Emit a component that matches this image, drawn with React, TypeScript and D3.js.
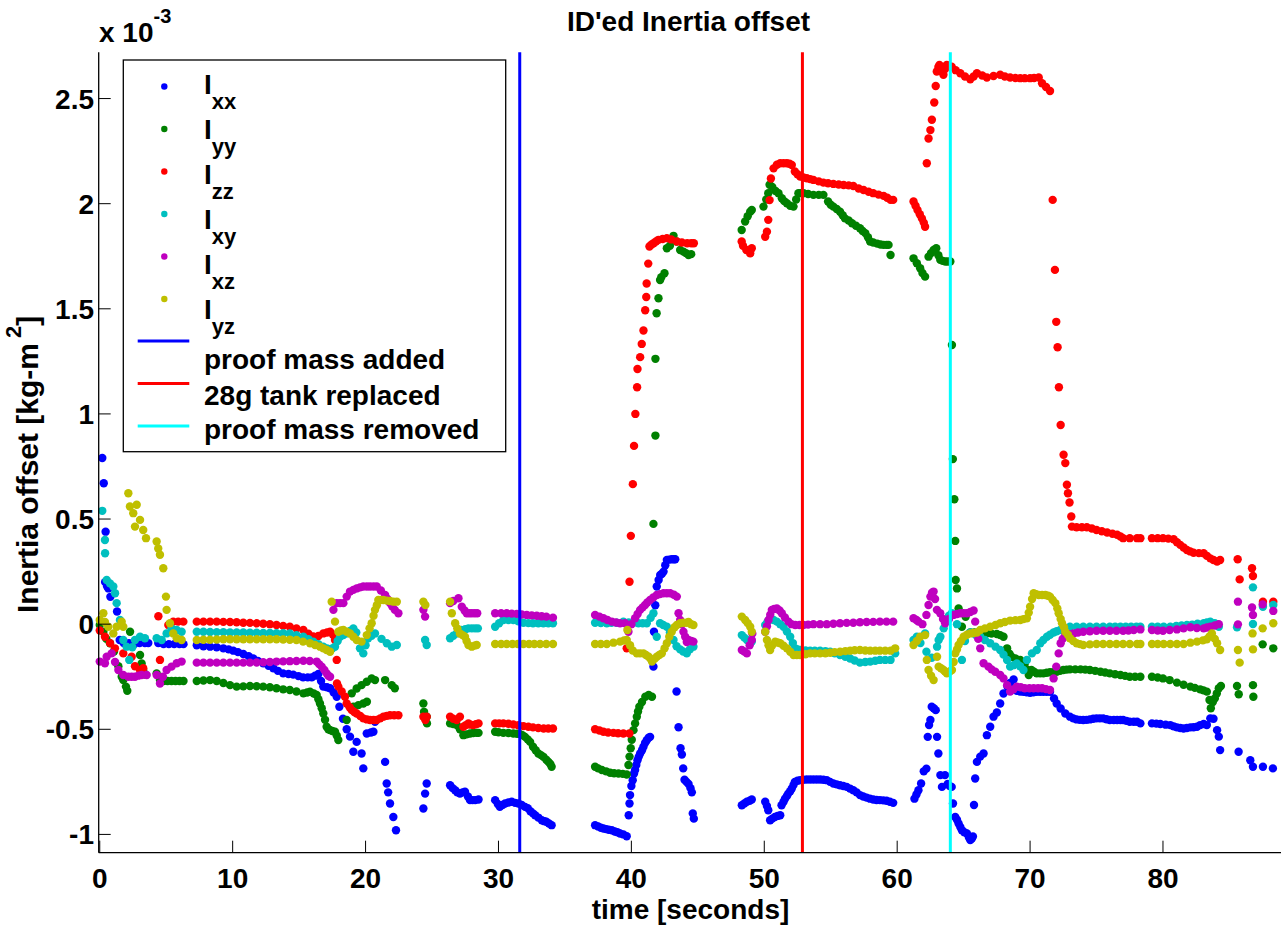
import React from "react";
import * as d3 from "d3";

// values are in units of 1e-3 kg-m^2, time in seconds
const ixx: [number, number][] = [
  [0.19,0.79],[0.3,0.67],[0.4,0.2],[0.44,0.44],[0.55,0.18],[0.65,0.17],[0.8,0.13],[1.3,0.06],
  [1.5,-0.075],[1.8,-0.09],[2.2,-0.09],[2.6,-0.095],[3.0,-0.09],[3.4,-0.09],[3.65,-0.09],
  [4.4,-0.09],[4.8,-0.095],[5.2,-0.095],[5.6,-0.095],[6.0,-0.095],[6.3,-0.095],
  [7.3,-0.1],[7.8,-0.105],[8.3,-0.107],[8.8,-0.11],[9.3,-0.115],[9.7,-0.12],[10.05,-0.126],[10.4,-0.133],
  [10.8,-0.142],[11.2,-0.152],[11.55,-0.163],[11.9,-0.175],[12.3,-0.186],[12.7,-0.198],[13.06,-0.21],
  [13.4,-0.222],[13.8,-0.234],[14.2,-0.237],[14.56,-0.24],[14.95,-0.247],[15.3,-0.253],[15.65,-0.253],
  [15.95,-0.253],[16.2,-0.245],[16.45,-0.237],[16.65,-0.27],[16.82,-0.297],[17.1,-0.3],[17.33,-0.305],
  [17.6,-0.325],[17.83,-0.345],[18.03,-0.393],[18.3,-0.45],[18.58,-0.5],[18.83,-0.535],[19.08,-0.607],
  [19.33,-0.56],[19.7,-0.615],[19.83,-0.686],[20.09,-0.52],[20.4,-0.515],[20.59,-0.512],[20.71,-0.464],
  [21.47,-0.655],[21.59,-0.758],[21.7,-0.8],[21.84,-0.853],[22.09,-0.917],[22.29,-0.98],
  [24.35,-0.877],[24.48,-0.806],[24.6,-0.758],
  [26.36,-0.766],[26.55,-0.78],[26.74,-0.79],[26.9,-0.8],[27.1,-0.806],[27.3,-0.8],[27.48,-0.797],
  [27.7,-0.82],[27.86,-0.837],[28.05,-0.837],[28.25,-0.837],[28.5,-0.834],
  [29.75,-0.837],[29.95,-0.855],[30.1,-0.869],[30.3,-0.86],[30.5,-0.853],[30.75,-0.848],[31.0,-0.845],
  [31.25,-0.85],[31.5,-0.853],[31.75,-0.86],[32.0,-0.869],[32.2,-0.875],[32.4,-0.89],[32.6,-0.9],
  [32.76,-0.909],[33.0,-0.92],[33.26,-0.933],[33.45,-0.937],[33.6,-0.94],[33.8,-0.948],[34.0,-0.956],
  [37.27,-0.956],[37.5,-0.962],[37.7,-0.968],[37.9,-0.972],[38.1,-0.975],[38.3,-0.978],[38.53,-0.98],
  [38.75,-0.986],[38.95,-0.99],[39.15,-0.996],[39.4,-1.0],[39.65,-1.009],
  [39.8,-0.909],[39.86,-0.853],[39.9,-0.813],[40.0,-0.77],[40.1,-0.742],[40.2,-0.71],[40.28,-0.694],
  [40.37,-0.67],[40.46,-0.647],[40.56,-0.63],[40.66,-0.615],[40.8,-0.6],[40.91,-0.583],[41.03,-0.565],
  [41.16,-0.552],[41.3,-0.54],[41.41,-0.536],
  [41.66,-0.202],[41.7,-0.036],[41.8,0.09],[41.91,0.179],[42.05,0.21],[42.17,0.234],[42.3,0.24],
  [42.42,0.25],[42.55,0.28],[42.67,0.305],[42.85,0.307],[43.04,0.309],[43.2,0.309],[43.3,0.309],
  [43.4,-0.32],[43.55,-0.49],[43.7,-0.59],[43.8,-0.62],[43.9,-0.686],[44.0,-0.74],[44.15,-0.75],
  [44.3,-0.76],[44.45,-0.78],[44.55,-0.8],[44.62,-0.9],[44.7,-0.925],
  [48.31,-0.861],[48.5,-0.853],[48.69,-0.845],[48.9,-0.84],[49.06,-0.834],
  [50.07,-0.845],[50.2,-0.865],[50.3,-0.885],[50.44,-0.933],[50.6,-0.925],[50.8,-0.917],[51.0,-0.912],
  [51.2,-0.909],[51.3,-0.861],[51.45,-0.845],[51.56,-0.83],[51.7,-0.818],[51.8,-0.806],[51.95,-0.795],
  [52.07,-0.782],[52.2,-0.765],[52.3,-0.75],[52.5,-0.745],[52.7,-0.742],[52.95,-0.74],[53.2,-0.739],
  [53.45,-0.739],[53.7,-0.739],[53.95,-0.739],[54.2,-0.739],[54.45,-0.74],[54.7,-0.742],[54.95,-0.75],
  [55.2,-0.758],[55.45,-0.762],[55.7,-0.766],[55.95,-0.77],[56.2,-0.774],[56.45,-0.782],[56.7,-0.79],
  [56.95,-0.8],[57.2,-0.813],[57.45,-0.82],[57.7,-0.825],[57.95,-0.83],[58.2,-0.834],[58.45,-0.836],
  [58.7,-0.837],[58.95,-0.838],[59.2,-0.84],[59.45,-0.845],[59.7,-0.85],
  [61.3,-0.83],[61.45,-0.81],[61.6,-0.79],[61.8,-0.758],[62.0,-0.7],[62.2,-0.687],[62.3,-0.536],
  [62.4,-0.48],[62.5,-0.456],[62.6,-0.393],[62.75,-0.4],[62.9,-0.409],[63.0,-0.536],[63.1,-0.615],
  [63.25,-0.718],[63.37,-0.774],[63.6,-0.718],[63.8,-0.76],[63.95,-0.77],[64.1,-0.774],[64.2,-0.853],
  [64.37,-0.917],[64.5,-0.93],[64.62,-0.948],[64.75,-0.965],[64.87,-0.98],[65.05,-0.99],[65.25,-0.996],
  [65.4,-1.015],[65.5,-1.027],[65.62,-1.02],[65.7,-1.01],[65.78,-0.86],[65.87,-0.734],[66.0,-0.655],
  [66.25,-0.63],[66.5,-0.615],[66.75,-0.528],[67.0,-0.488],[67.25,-0.44],[67.5,-0.42],[67.75,-0.377],
  [68.0,-0.33],[68.3,-0.297],[68.5,-0.28],[68.76,-0.263],[69.0,-0.317],[69.25,-0.32],[69.5,-0.322],
  [69.75,-0.324],[70.0,-0.326],[70.25,-0.324],[70.5,-0.322],[70.75,-0.322],[71.0,-0.322],[71.25,-0.322],
  [71.5,-0.322],[71.8,-0.353],[72.0,-0.377],[72.3,-0.401],[72.65,-0.425],[73.0,-0.44],[73.25,-0.448],
  [73.5,-0.453],[73.75,-0.455],[74.0,-0.456],[74.25,-0.455],[74.5,-0.453],[74.75,-0.45],[75.0,-0.448],
  [75.25,-0.448],[75.5,-0.448],[75.75,-0.452],[76.0,-0.456],[76.3,-0.456],[76.55,-0.456],[76.8,-0.456],
  [77.0,-0.456],[77.25,-0.46],[77.5,-0.464],[77.8,-0.464],[78.05,-0.464],[78.3,-0.472],
  [79.17,-0.472],[79.5,-0.473],[79.8,-0.475],[80.2,-0.478],[80.55,-0.48],[80.8,-0.486],[81.05,-0.491],
  [81.3,-0.494],[81.55,-0.496],[81.8,-0.494],[82.06,-0.491],[82.3,-0.49],[82.56,-0.488],[82.8,-0.48],
  [83.06,-0.475],[83.3,-0.48],[83.56,-0.448],[83.8,-0.45],[84.07,-0.504],[84.2,-0.535],[84.3,-0.599],
  [85.69,-0.607],[86.57,-0.647],[86.77,-0.678],[87.52,-0.678],[88.27,-0.686],
];

const iyy: [number, number][] = [
  [0.0,-0.004],[0.27,-0.036],[0.5,-0.07],[0.77,-0.091],[1.07,-0.13],[1.4,-0.2],[1.65,-0.25],[1.77,-0.266],
  [1.97,-0.297],[2.07,-0.317],[2.28,-0.036],[3.03,-0.147],[3.15,-0.187],[3.27,-0.22],[3.4,-0.24],
  [4.28,-0.234],[4.53,-0.265],[4.8,-0.27],[5.1,-0.27],[5.4,-0.27],[5.7,-0.27],[6.0,-0.27],[6.3,-0.27],
  [7.3,-0.27],[7.8,-0.268],[8.3,-0.266],[8.8,-0.27],[9.3,-0.28],[9.8,-0.29],[10.3,-0.297],[10.8,-0.296],
  [11.3,-0.294],[11.8,-0.295],[12.3,-0.297],[12.8,-0.3],[13.3,-0.305],[13.8,-0.31],[14.3,-0.313],
  [14.8,-0.32],[15.32,-0.329],[15.6,-0.325],[15.82,-0.321],[16.1,-0.33],[16.32,-0.337],[16.45,-0.357],
  [16.57,-0.377],[16.7,-0.4],[16.82,-0.425],[16.95,-0.455],[17.07,-0.488],[17.2,-0.5],[17.33,-0.504],
  [17.5,-0.508],[17.7,-0.512],[17.83,-0.53],[17.95,-0.551],[18.58,-0.456],[18.96,-0.329],[19.08,-0.393],
  [19.33,-0.306],[19.46,-0.385],[19.7,-0.29],[19.83,-0.377],[20.09,-0.274],[20.1,-0.369],[20.46,-0.258],
  [20.71,-0.266],[21.47,-0.266],[21.97,-0.29],[22.2,-0.305],
  [24.35,-0.377],[24.4,-0.417],[24.6,-0.44],[24.62,-0.472],
  [26.36,-0.472],[26.6,-0.475],[26.86,-0.48],[27.1,-0.5],[27.36,-0.528],[27.6,-0.524],[27.86,-0.52],
  [28.1,-0.518],[28.36,-0.517],[28.5,-0.517],
  [29.75,-0.512],[30.0,-0.514],[30.37,-0.517],[30.75,-0.518],[31.12,-0.52],[31.4,-0.521],[31.63,-0.523],
  [31.8,-0.528],[32.0,-0.536],[32.2,-0.548],[32.38,-0.56],[32.6,-0.583],[32.8,-0.6],[33.0,-0.615],
  [33.2,-0.623],[33.38,-0.631],[33.6,-0.645],[33.76,-0.655],[33.9,-0.665],[34.0,-0.678],
  [37.27,-0.678],[37.5,-0.686],[37.78,-0.694],[38.1,-0.7],[38.4,-0.707],[38.7,-0.709],[39.03,-0.71],
  [39.35,-0.712],[39.65,-0.715],[39.78,-0.67],[39.86,-0.63],[39.95,-0.59],[40.03,-0.55],[40.16,-0.504],
  [40.28,-0.472],[40.41,-0.44],[40.5,-0.415],[40.6,-0.393],[40.8,-0.37],[41.05,-0.345],[41.3,-0.337],
  [41.55,-0.345],[41.66,0.477],[41.81,0.897],[41.81,1.262],[41.9,1.479],[42.04,1.55],[42.16,1.637],
  [42.25,1.65],[42.49,1.669],[42.67,1.788],[42.9,1.8],[43.17,1.847],[43.4,1.82],[43.67,1.78],
  [43.92,1.772],[44.1,1.765],[44.3,1.756],[44.5,1.76],
  [48.3,1.875],[48.56,1.915],[48.75,1.94],[48.94,1.962],[49.06,1.97],
  [49.94,1.986],[50.15,2.02],[50.3,2.05],[50.4,2.09],[50.6,2.08],[50.85,2.06],[51.07,2.05],[51.32,2.026],
  [51.5,2.012],[51.7,2.002],[51.95,1.99],[52.2,1.986],[52.4,2.02],[52.57,2.05],[52.75,2.05],[52.96,2.05],
  [53.3,2.046],[53.7,2.042],[54.1,2.042],[54.45,2.042],[54.8,2.01],[55.0,1.995],[55.2,1.986],[55.45,1.975],
  [55.7,1.962],[55.9,1.945],[56.07,1.93],[56.35,1.92],[56.6,1.907],[56.9,1.895],[57.2,1.883],[57.4,1.87],
  [57.6,1.86],[57.8,1.84],[57.96,1.82],[58.2,1.815],[58.5,1.81],[58.75,1.806],[58.98,1.804],[59.2,1.804],
  [59.35,1.804],[59.5,1.756],
  [61.23,1.74],[61.48,1.717],[61.73,1.693],[61.9,1.67],[62.1,1.653],[62.36,1.748],[62.55,1.765],
  [62.74,1.78],[62.94,1.788],[63.1,1.755],[63.24,1.733],[63.42,1.728],[63.62,1.725],[63.8,1.725],
  [64.0,1.725],[64.12,1.328],[64.19,0.785],[64.3,0.594],[64.37,0.396],[64.4,0.21],[64.5,0.17],
  [64.62,0.075],[64.87,-0.012],[65.15,0.035],[65.5,-0.04],[65.8,-0.04],[66.1,-0.04],[66.5,-0.04],
  [66.8,-0.042],[67.1,-0.045],[67.5,-0.047],[67.75,-0.052],[68.0,-0.06],[68.27,-0.115],[68.45,-0.14],
  [68.6,-0.155],[68.9,-0.163],[69.26,-0.17],[69.6,-0.187],[69.75,-0.215],[69.9,-0.242],[70.1,-0.218],
  [70.3,-0.226],[70.5,-0.234],[70.75,-0.234],[71.0,-0.234],[71.25,-0.231],[71.5,-0.229],[71.75,-0.228],
  [72.0,-0.226],[72.25,-0.222],[72.5,-0.218],[72.75,-0.216],[73.0,-0.215],[73.4,-0.215],[73.8,-0.215],
  [74.15,-0.216],[74.5,-0.218],[74.9,-0.222],[75.3,-0.226],[75.65,-0.23],[76.0,-0.234],[76.4,-0.238],
  [76.8,-0.242],[77.15,-0.246],[77.5,-0.25],[77.9,-0.25],[78.3,-0.25],
  [79.17,-0.25],[79.6,-0.254],[80.0,-0.258],[80.5,-0.266],[81.05,-0.278],[81.55,-0.288],[82.06,-0.297],
  [82.4,-0.303],[82.8,-0.31],[83.05,-0.315],[83.3,-0.321],[83.5,-0.361],[83.6,-0.4],[83.75,-0.37],
  [83.9,-0.353],[84.05,-0.33],[84.2,-0.305],[84.36,-0.294],
  [85.57,-0.294],[85.7,-0.333],[86.77,-0.29],[86.8,-0.345],[87.5,-0.096],[88.3,-0.115],
];

const izz: [number, number][] = [
  [0.0,-0.03],[0.39,-0.06],[0.77,-0.09],[1.14,-0.115],[1.77,-0.139],[2.4,-0.155],[2.65,-0.2],[3.03,-0.218],
  [3.27,-0.21],[4.41,0.038],[4.53,-0.17],[5.16,-0.004],[5.53,0.012],[5.9,0.012],[6.29,0.012],
  [7.3,0.012],[7.8,0.012],[8.3,0.012],[8.8,0.012],[9.3,0.011],[9.8,0.01],[10.3,0.009],[10.8,0.007],
  [11.3,0.006],[11.8,0.004],[12.3,0.002],[12.8,0.0],[13.3,-0.004],[13.8,-0.008],[14.3,-0.012],[14.8,-0.02],
  [15.32,-0.028],[15.7,-0.045],[16.07,-0.059],[16.45,-0.056],[16.82,-0.044],[17.1,-0.04],[17.33,-0.036],
  [17.55,-0.05],[17.7,-0.075],[17.83,-0.17],[17.85,-0.282],[17.95,-0.297],[18.2,-0.32],[18.45,-0.345],
  [18.58,-0.377],[18.8,-0.395],[18.96,-0.409],[19.15,-0.418],[19.33,-0.425],[19.6,-0.437],[19.83,-0.448],
  [20.1,-0.453],[20.34,-0.456],[20.6,-0.456],[20.84,-0.456],[21.1,-0.448],[21.34,-0.44],[21.6,-0.436],
  [21.84,-0.433],[22.15,-0.433],[22.47,-0.433],
  [24.35,-0.44],[24.5,-0.456],[24.6,-0.44],
  [26.36,-0.44],[26.6,-0.45],[26.86,-0.456],[27.1,-0.44],[27.36,-0.488],[27.55,-0.48],[27.74,-0.472],
  [27.9,-0.478],[28.1,-0.48],[28.3,-0.476],[28.5,-0.472],
  [29.75,-0.472],[30.05,-0.472],[30.37,-0.472],[30.75,-0.474],[31.12,-0.477],[31.5,-0.481],[31.88,-0.485],
  [32.25,-0.488],[32.6,-0.491],[33.0,-0.494],[33.4,-0.496],[33.75,-0.496],[34.1,-0.496],
  [37.27,-0.5],[37.6,-0.506],[37.9,-0.512],[38.25,-0.515],[38.65,-0.517],[39.0,-0.519],[39.4,-0.52],
  [39.65,-0.115],[39.85,-0.52],[39.86,0.202],[39.96,0.42],[40.11,0.666],[40.2,0.848],[40.3,1.0],
  [40.43,1.127],[40.46,1.214],[40.66,1.27],[40.78,1.333],[40.91,1.397],[41.04,1.493],[41.12,1.556],
  [41.15,1.62],[41.27,1.715],[41.36,1.796],[41.5,1.805],[41.67,1.812],[41.85,1.82],[42.04,1.828],
  [42.35,1.832],[42.67,1.836],[43.0,1.83],[43.42,1.82],[43.8,1.815],[44.2,1.812],[44.5,1.812],[44.7,1.812],
  [48.3,1.82],[48.4,1.8],[48.65,1.78],[48.94,1.764],[49.06,1.788],
  [50.07,1.843],[50.2,1.867],[50.3,1.923],[50.4,2.017],[50.5,2.12],[50.7,2.168],[50.95,2.185],[51.2,2.192],
  [51.45,2.192],[51.7,2.192],[51.9,2.19],[52.07,2.184],[52.3,2.153],[52.5,2.14],[52.7,2.129],[52.95,2.125],
  [53.2,2.121],[53.45,2.117],[53.7,2.113],[54.1,2.106],[54.45,2.1],[54.8,2.097],[55.2,2.094],[55.6,2.091],
  [55.97,2.089],[56.35,2.087],[56.7,2.084],[57.1,2.072],[57.47,2.065],[57.85,2.057],[58.2,2.05],
  [58.6,2.043],[58.98,2.037],[59.25,2.028],[59.5,2.018],[59.7,2.018],
  [61.23,2.01],[61.38,1.99],[61.53,1.97],[61.7,1.95],[61.86,1.93],[62.0,1.91],[62.1,1.89],[62.23,2.192],
  [62.36,2.31],[62.5,2.35],[62.61,2.399],[62.79,2.481],[62.9,2.56],[62.98,2.629],[63.1,2.65],[63.18,2.66],
  [63.35,2.63],[63.48,2.613],[63.6,2.64],[63.73,2.66],[63.9,2.655],[64.1,2.652],[64.4,2.635],[64.75,2.62],
  [65.1,2.605],[65.5,2.592],[65.75,2.605],[66.0,2.62],[66.4,2.61],[66.75,2.6],[67.25,2.607],[67.75,2.613],
  [68.1,2.605],[68.5,2.6],[68.9,2.598],[69.26,2.597],[69.6,2.597],[70.0,2.597],[70.3,2.598],[70.65,2.6],
  [70.9,2.573],[71.2,2.555],[71.5,2.536],[71.7,2.018],[71.87,1.685],[71.97,1.438],[72.07,1.317],
  [72.17,1.127],[72.3,0.947],[72.52,0.806],[72.65,0.766],[72.77,0.663],[72.85,0.623],[72.97,0.579],
  [73.1,0.512],[73.15,0.464],[73.5,0.461],[73.9,0.461],[74.27,0.461],[74.65,0.455],[75.0,0.448],
  [75.4,0.442],[75.8,0.436],[76.2,0.43],[76.55,0.425],[76.8,0.417],[77.0,0.409],[77.5,0.409],[78.05,0.409],
  [78.3,0.409],
  [79.17,0.409],[79.6,0.409],[80.0,0.409],[80.4,0.407],[80.8,0.404],[81.05,0.39],[81.3,0.377],[81.55,0.365],
  [81.8,0.353],[82.05,0.346],[82.3,0.34],[82.7,0.338],[83.06,0.337],[83.3,0.325],[83.56,0.313],[83.8,0.305],
  [84.07,0.298],[84.3,0.305],
  [85.62,0.309],[85.77,0.213],[86.7,0.266],[86.77,0.229],[87.52,0.107],[88.3,0.107],
];

const ixy: [number, number][] = [
  [0.19,0.539],[0.39,0.4],[0.4,0.337],[0.52,0.21],[0.77,0.194],[1.02,0.179],[1.15,0.147],[1.27,0.1],
  [1.52,0.02],[1.77,-0.075],[2.02,-0.107],[2.22,-0.17],[2.45,-0.11],[2.65,-0.075],[3.03,-0.06],[3.4,-0.067],
  [4.28,-0.067],[4.66,-0.075],[5.03,-0.044],[5.4,-0.02],[5.79,-0.028],[6.16,-0.036],
  [7.3,-0.036],[7.8,-0.036],[8.3,-0.037],[8.8,-0.038],[9.3,-0.038],[9.8,-0.039],[10.3,-0.04],[10.8,-0.04],
  [11.3,-0.041],[11.8,-0.041],[12.3,-0.042],[12.8,-0.042],[13.3,-0.043],[13.8,-0.043],[14.3,-0.044],
  [14.8,-0.052],[15.32,-0.06],[15.7,-0.072],[16.07,-0.083],[16.45,-0.095],[16.82,-0.107],[17.1,-0.115],
  [17.33,-0.123],[17.5,-0.115],[17.7,-0.107],[17.9,-0.08],[18.08,-0.06],[18.33,-0.052],[18.58,-0.044],
  [18.83,-0.032],[19.08,-0.02],[19.3,-0.04],[19.58,-0.115],[19.83,-0.139],[20.0,-0.1],[20.2,-0.067],
  [20.45,-0.055],[20.71,-0.044],[21.2,-0.07],[21.6,-0.091],[21.97,-0.107],[22.35,-0.099],
  [24.48,-0.075],[24.6,-0.099],
  [26.36,-0.067],[26.6,-0.055],[26.86,-0.044],[27.05,-0.035],[27.2,-0.028],[27.5,-0.024],[27.74,-0.02],
  [28.0,-0.02],[28.24,-0.02],[28.45,-0.02],
  [29.75,-0.012],[30.05,0.004],[30.37,0.02],[30.75,0.02],[31.12,0.02],[31.5,0.014],[31.88,0.007],
  [32.25,0.005],[32.6,0.004],[33.0,0.004],[33.38,0.004],[33.75,0.004],[34.1,0.004],
  [37.27,0.007],[37.7,0.005],[38.15,0.004],[38.5,0.006],[38.9,0.007],[39.4,0.012],[39.8,0.008],
  [40.15,0.006],[40.53,0.004],[40.85,0.004],[41.16,0.004],[41.45,0.03],[41.66,0.052],[41.91,-0.06],
  [42.16,0.004],[42.4,-0.004],[42.67,-0.012],[42.9,-0.04],[43.17,-0.075],[43.4,-0.105],[43.67,-0.12],
  [43.9,-0.13],[44.17,-0.139],[44.4,-0.12],[44.67,-0.107],
  [48.31,-0.052],[48.5,-0.064],[48.7,-0.075],[49.06,-0.083],
  [50.07,-0.004],[50.25,0.012],[50.44,0.028],[50.7,0.02],[50.95,0.012],[51.2,0.0],[51.45,-0.012],
  [51.7,-0.035],[51.95,-0.06],[52.15,-0.09],[52.33,-0.115],[52.5,-0.12],[52.7,-0.123],[53.1,-0.125],
  [53.45,-0.126],[53.8,-0.126],[54.2,-0.126],[54.6,-0.128],[54.96,-0.131],[55.3,-0.138],[55.7,-0.147],
  [56.1,-0.155],[56.46,-0.163],[56.8,-0.173],[57.2,-0.183],[57.6,-0.18],[57.97,-0.178],[58.35,-0.174],
  [58.7,-0.17],[59.1,-0.17],[59.5,-0.17],[59.85,-0.139],
  [61.23,-0.075],[61.48,-0.06],[61.75,-0.09],[62.1,-0.044],[62.2,-0.131],[62.6,-0.16],[63.0,-0.107],
  [63.12,-0.075],[63.25,-0.06],[63.5,-0.02],[63.74,0.02],[63.9,0.04],[64.12,0.052],[64.5,0.0],[64.87,-0.17],
  [65.1,-0.08],[65.5,-0.04],[65.9,-0.05],[66.25,-0.06],[66.6,-0.075],[67.0,-0.091],[67.4,-0.107],
  [67.75,-0.123],[68.0,-0.145],[68.27,-0.17],[68.5,-0.202],[68.75,-0.195],[69.0,-0.187],[69.25,-0.2],
  [69.5,-0.218],[69.76,-0.17],[70.14,-0.139],[70.5,-0.123],[70.77,-0.091],[71.0,-0.075],[71.27,-0.06],
  [71.5,-0.05],[71.77,-0.04],[72.0,-0.034],[72.27,-0.028],[72.6,-0.02],[73.0,-0.012],[73.5,-0.012],
  [74.0,-0.012],[74.5,-0.012],[75.0,-0.012],[75.5,-0.012],[76.0,-0.012],[76.4,-0.012],[76.8,-0.012],
  [77.2,-0.012],[77.6,-0.012],[78.0,-0.012],[78.3,-0.012],
  [79.17,-0.012],[79.6,-0.012],[80.05,-0.012],[80.55,-0.012],[81.0,-0.008],[81.4,-0.006],[81.8,-0.004],
  [82.2,-0.002],[82.6,0.002],[83.06,0.004],[83.3,0.008],[83.56,0.012],[83.9,0.004],[84.2,-0.012],
  [85.57,-0.015],[86.77,0.175],[86.77,0.001],[87.52,0.083],[88.3,0.091],
];

const ixz: [number, number][] = [
  [0.0,-0.178],[0.39,-0.186],[0.52,-0.155],[0.89,-0.139],[1.15,-0.18],[1.4,-0.218],[1.77,-0.242],
  [2.15,-0.25],[2.4,-0.25],[2.65,-0.25],[2.9,-0.245],[3.15,-0.242],[3.53,-0.242],
  [4.28,-0.242],[4.53,-0.282],[4.75,-0.25],[5.03,-0.218],[5.4,-0.202],[5.79,-0.186],[6.16,-0.178],
  [7.3,-0.183],[7.8,-0.183],[8.3,-0.183],[8.8,-0.183],[9.3,-0.183],[9.8,-0.183],[10.3,-0.183],[10.8,-0.183],
  [11.3,-0.183],[11.8,-0.182],[12.3,-0.181],[12.8,-0.18],[13.3,-0.178],[13.8,-0.177],[14.3,-0.176],
  [14.8,-0.175],[15.32,-0.174],[15.8,-0.175],[16.32,-0.178],[16.5,-0.19],[16.7,-0.202],[16.9,-0.218],
  [17.07,-0.234],[17.2,-0.245],[17.33,-0.25],[17.58,0.068],[17.83,0.1],[18.08,0.1],[18.33,0.1],
  [18.58,0.131],[18.83,0.155],[19.08,0.163],[19.33,0.17],[19.58,0.175],[19.83,0.179],[20.1,0.179],
  [20.34,0.179],[20.6,0.179],[20.84,0.179],[21.15,0.16],[21.47,0.139],[21.65,0.12],[21.84,0.1],[22.0,0.085],
  [22.2,0.068],[22.47,0.052],
  [24.35,0.068],[24.48,0.036],
  [26.36,0.1],[26.6,0.11],[26.99,0.123],[27.24,0.083],[27.45,0.065],[27.61,0.052],[27.8,0.052],
  [27.99,0.052],[28.2,0.052],[28.4,0.052],
  [29.75,0.052],[30.2,0.052],[30.62,0.052],[31.0,0.05],[31.38,0.049],[31.75,0.046],[32.13,0.044],
  [32.5,0.042],[32.88,0.04],[33.25,0.038],[33.6,0.036],[34.1,0.031],
  [37.27,0.044],[37.6,0.036],[37.9,0.028],[38.2,0.02],[38.53,0.012],[38.85,0.008],[39.15,0.004],
  [39.53,0.004],[39.78,-0.036],[40.0,0.0],[40.28,0.028],[40.47,0.048],[40.66,0.068],[40.85,0.08],
  [41.03,0.091],[41.2,0.103],[41.41,0.115],[41.65,0.127],[41.91,0.139],[42.15,0.143],[42.42,0.147],
  [42.67,0.147],[42.92,0.147],[43.2,0.14],[43.42,0.131],[43.55,0.052],[43.67,0.02],[43.8,0.0],
  [43.92,-0.036],[44.05,-0.06],[44.17,-0.085],[44.3,-0.075],[44.5,-0.08],[44.67,-0.083],
  [48.31,-0.123],[48.5,-0.13],[48.69,-0.139],[48.9,-0.1],[49.06,-0.075],[49.1,-0.045],
  [50.07,-0.036],[50.2,-0.01],[50.32,0.02],[50.45,0.045],[50.57,0.068],[50.75,0.072],[50.95,0.075],
  [51.15,0.065],[51.32,0.052],[51.55,0.032],[51.82,0.012],[52.05,0.0],[52.33,-0.004],[52.65,-0.004],
  [52.95,-0.004],[53.3,-0.002],[53.7,0.0],[54.2,0.0],[54.7,0.0],[55.2,0.002],[55.7,0.004],[56.2,0.006],
  [56.7,0.007],[57.2,0.009],[57.7,0.01],[58.2,0.011],[58.7,0.012],[59.2,0.012],[59.7,0.012],
  [61.23,0.028],[61.45,0.02],[61.6,0.012],[61.9,0.0],[62.2,0.044],[62.36,0.091],[62.5,0.131],[62.62,0.15],
  [62.74,0.155],[62.85,0.12],[62.99,0.068],[63.24,0.052],[63.45,0.025],[63.61,0.004],[63.9,0.025],
  [64.24,0.044],[64.5,0.048],[64.74,0.052],[65.0,0.052],[65.25,0.052],[65.5,0.058],[65.75,0.065],
  [65.87,0.012],[66.1,-0.07],[66.25,-0.115],[66.5,-0.186],[66.87,-0.202],[67.1,-0.215],[67.38,-0.226],
  [67.75,-0.242],[68.0,-0.258],[68.27,-0.29],[68.5,-0.321],[68.75,-0.31],[69.0,-0.297],[69.3,-0.3],
  [69.6,-0.305],[69.95,-0.305],[70.27,-0.305],[70.6,-0.305],[70.9,-0.305],[71.2,-0.309],[71.5,-0.313],
  [71.77,-0.258],[71.97,-0.202],[72.15,-0.139],[72.3,-0.091],[72.45,-0.07],[72.65,-0.052],[72.95,-0.048],
  [73.27,-0.044],[73.6,-0.04],[74.0,-0.036],[74.5,-0.034],[75.0,-0.031],[75.5,-0.031],[76.0,-0.031],
  [76.5,-0.031],[77.0,-0.031],[77.4,-0.03],[77.8,-0.028],[78.3,-0.025],
  [79.17,-0.028],[79.6,-0.03],[80.0,-0.031],[80.5,-0.028],[81.05,-0.025],[81.55,-0.02],[82.06,-0.015],
  [82.55,-0.018],[83.06,-0.02],[83.3,-0.016],[83.56,-0.012],[83.9,-0.006],[84.2,0.0],
  [85.64,0.107],[85.64,-0.001],[86.7,0.079],[86.77,0.044],[87.5,0.094],[88.3,0.063],
];

const iyz: [number, number][] = [
  [0.0,0.02],[0.27,0.052],[0.39,0.01],[0.64,-0.012],[1.02,-0.044],[1.27,-0.012],[1.65,0.012],[1.77,-0.012],
  [2.15,0.623],[2.27,0.56],[2.52,0.528],[2.65,0.464],[2.78,0.568],[3.03,0.496],[3.27,0.448],[3.48,0.409],
  [4.28,0.393],[4.4,0.36],[4.53,0.33],[4.78,0.266],[4.98,0.131],[5.03,0.068],[5.28,0.004],[5.53,-0.044],
  [5.79,-0.067],[6.16,-0.075],
  [7.3,-0.075],[7.8,-0.074],[8.3,-0.074],[8.8,-0.073],[9.3,-0.072],[9.8,-0.072],[10.3,-0.072],[10.8,-0.072],
  [11.3,-0.072],[11.8,-0.072],[12.3,-0.072],[12.8,-0.072],[13.3,-0.072],[13.8,-0.073],[14.3,-0.074],
  [14.8,-0.075],[15.3,-0.083],[15.82,-0.091],[16.2,-0.099],[16.57,-0.107],[16.82,-0.115],[17.07,-0.123],
  [17.33,-0.131],[17.45,0.107],[17.7,0.012],[17.95,-0.036],[18.15,-0.03],[18.33,-0.028],[18.58,-0.036],
  [18.83,-0.044],[19.08,-0.06],[19.33,-0.075],[19.7,-0.083],[20.09,-0.052],[20.3,-0.02],[20.46,0.004],
  [20.6,0.04],[20.71,0.068],[20.85,0.09],[20.96,0.115],[21.15,0.115],[21.34,0.115],[21.6,0.112],
  [21.84,0.11],[22.1,0.107],[22.35,0.107],
  [24.35,0.107],[24.5,0.091],
  [26.36,0.107],[26.49,0.052],[26.74,0.004],[26.9,-0.02],[27.1,-0.044],[27.3,-0.052],[27.48,-0.06],
  [27.6,-0.08],[27.74,-0.099],[27.99,-0.107],[28.2,-0.102],[28.36,-0.099],
  [29.75,-0.094],[30.2,-0.094],[30.62,-0.094],[31.05,-0.094],[31.45,-0.094],[31.88,-0.094],[32.3,-0.094],
  [32.7,-0.094],[33.13,-0.094],[33.6,-0.094],[34.1,-0.094],
  [37.27,-0.094],[37.7,-0.094],[38.15,-0.094],[38.65,-0.088],[39.15,-0.083],[39.45,-0.078],[39.65,-0.075],
  [39.7,-0.028],[39.9,-0.1],[40.1,-0.125],[40.41,-0.139],[40.65,-0.139],[40.91,-0.139],[41.1,-0.147],
  [41.3,-0.155],[41.45,-0.165],[41.55,-0.178],[41.75,-0.165],[41.91,-0.155],[42.1,-0.147],[42.29,-0.139],
  [42.5,-0.115],[42.67,-0.091],[42.85,-0.06],[43.04,-0.036],[43.25,-0.015],[43.42,-0.004],[43.67,0.004],
  [43.92,0.007],[44.17,0.007],[44.3,0.01],[44.5,0.0],[44.67,-0.004],
  [48.31,0.036],[48.56,0.02],[48.75,0.005],[48.94,-0.012],[49.06,-0.036],
  [50.07,-0.036],[50.2,-0.075],[50.32,-0.1],[50.44,-0.123],[50.6,-0.1],[50.82,-0.083],[51.0,-0.087],
  [51.2,-0.091],[51.45,-0.103],[51.7,-0.115],[51.95,-0.131],[52.2,-0.147],[52.45,-0.147],[52.7,-0.147],
  [53.1,-0.143],[53.45,-0.139],[53.8,-0.139],[54.2,-0.139],[54.6,-0.138],[54.96,-0.136],[55.3,-0.133],
  [55.7,-0.131],[56.1,-0.128],[56.46,-0.126],[56.8,-0.124],[57.2,-0.123],[57.6,-0.125],[57.97,-0.126],
  [58.35,-0.126],[58.7,-0.126],[59.1,-0.126],[59.5,-0.126],[59.85,-0.115],
  [61.23,-0.099],[61.48,-0.08],[61.73,-0.06],[62.1,-0.052],[62.23,-0.17],[62.36,-0.218],[62.55,-0.245],
  [62.74,-0.266],[63.0,-0.155],[63.12,-0.202],[63.3,-0.21],[63.49,-0.218],[63.6,-0.225],[63.74,-0.234],
  [63.95,-0.225],[64.12,-0.218],[64.25,-0.18],[64.37,-0.139],[64.5,-0.12],[64.62,-0.099],[64.8,-0.08],
  [65.0,-0.06],[65.25,-0.05],[65.5,-0.044],[65.75,-0.042],[66.0,-0.04],[66.25,-0.028],[66.6,-0.02],
  [67.0,-0.012],[67.4,-0.004],[67.75,0.004],[68.1,0.01],[68.5,0.017],[68.9,0.019],[69.26,0.02],
  [69.5,0.024],[69.76,0.028],[69.9,0.055],[70.0,0.083],[70.15,0.12],[70.27,0.147],[70.45,0.143],
  [70.65,0.139],[70.9,0.139],[71.15,0.139],[71.35,0.135],[71.5,0.131],[71.7,0.115],[71.9,0.1],
  [72.05,0.075],[72.15,0.052],[72.3,0.025],[72.4,0.004],[72.55,-0.015],[72.65,-0.036],[72.85,-0.05],
  [73.0,-0.067],[73.25,-0.08],[73.5,-0.091],[73.75,-0.095],[74.0,-0.099],[74.5,-0.096],[75.0,-0.094],
  [75.5,-0.094],[76.0,-0.094],[76.5,-0.094],[77.0,-0.094],[77.5,-0.094],[78.05,-0.094],[78.3,-0.094],
  [79.17,-0.094],[79.6,-0.094],[80.05,-0.094],[80.55,-0.094],[81.05,-0.094],[81.55,-0.094],[82.06,-0.088],
  [82.56,-0.083],[83.0,-0.077],[83.3,-0.072],[83.5,-0.058],[83.68,-0.044],[83.9,-0.07],[84.07,-0.091],
  [84.3,-0.123],
  [85.64,-0.123],[85.77,-0.183],[86.74,-0.044],[86.77,-0.12],[87.5,-0.02],[88.3,0.004],
];

const seriesNames = ["xx", "yy", "zz", "xy", "xz", "yz"];
const seriesColors = ["#0000ff", "#008000", "#ff0000", "#00bfbf", "#bf00bf", "#bfbf00"];
const seriesData = [ixx, iyy, izz, ixy, ixz, iyz];

const eventTimes = [31.6, 52.87, 64.0];
const eventLabels = ["proof mass added", "28g tank replaced", "proof mass removed"];
const eventColors = ["#0000ff", "#ff0000", "#00ffff"];

const xTicks = [0, 10, 20, 30, 40, 50, 60, 70, 80];
const yTicks = [-1, -0.5, 0, 0.5, 1, 1.5, 2, 2.5];

const FONT = "'Liberation Sans', Arial, Helvetica, sans-serif";

export default function App() {
  const left = 98.7, right = 1281, top = 52.3, bottom = 852.7;
  const x = d3.scaleLinear().domain([-0.08, 88.88]).range([left, right]);
  const y = d3.scaleLinear().domain([-1.087, 2.72]).range([bottom, top]);

  return (
    <svg
      width={1281}
      height={927}
      style={{ position: "absolute", left: 0, top: 0, background: "#fff" }}
      fontFamily={FONT}
      fontWeight="bold"
    >
      <rect x={0} y={0} width={1281} height={927} fill="#fff" />

      {/* data points */}
      {seriesData.map((pts, si) => (
        <g key={si} fill={seriesColors[si]}>
          {pts.map((d, i) => (
            <circle key={i} cx={x(d[0])} cy={y(d[1])} r={4.2} />
          ))}
        </g>
      ))}

      {/* event markers */}
      {eventTimes.map((t, i) => (
        <line key={i} x1={x(t)} x2={x(t)} y1={top} y2={bottom} stroke={eventColors[i]} strokeWidth={3} />
      ))}

      {/* axes */}
      <line x1={left} x2={left} y1={top} y2={bottom} stroke="#000" strokeWidth={1.3} />
      <line x1={left} x2={right} y1={bottom} y2={bottom} stroke="#000" strokeWidth={1.3} />
      {yTicks.map((v) => (
        <g key={v}>
          <line x1={left} x2={left + 12} y1={y(v)} y2={y(v)} stroke="#000" strokeWidth={1} />
          <text x={94} y={y(v) + 10} fontSize={28} textAnchor="end">{String(v)}</text>
        </g>
      ))}
      {xTicks.map((t) => (
        <g key={t}>
          <line x1={x(t)} x2={x(t)} y1={bottom} y2={bottom - 12} stroke="#000" strokeWidth={1} />
          <text x={x(t)} y={888} fontSize={28} textAnchor="middle">{String(t)}</text>
        </g>
      ))}

      {/* labels */}
      <text x={688.5} y={31} fontSize={28} textAnchor="middle">ID'ed Inertia offset</text>
      <text x={690.5} y={919} fontSize={28} textAnchor="middle">time [seconds]</text>
      <text x={99} y={42} fontSize={28}>
        x 10<tspan dy={-19} fontSize={20}>-3</tspan>
      </text>
      <text transform="translate(38,613) rotate(-90)" fontSize={30}>
        Inertia offset [kg-m<tspan dx={5} dy={-17} fontSize={22}>2</tspan><tspan dy={17}>]</tspan>
      </text>

      {/* legend */}
      <rect x={123.3} y={60} width={382.4} height={391.7} fill="#fff" stroke="#000" strokeWidth={1.3} />
      {seriesNames.map((n, i) => (
        <g key={n}>
          <circle cx={164.3} cy={86.5 + 42.5 * i} r={3.2} fill={seriesColors[i]} />
          <text x={204} y={93.5 + 45 * i} fontSize={28}>
            I<tspan dy={15} fontSize={22}>{n}</tspan>
          </text>
        </g>
      ))}
      {eventLabels.map((l, i) => (
        <g key={l}>
          <line x1={137.7} x2={189.3} y1={341 + 42.5 * i} y2={341 + 42.5 * i} stroke={eventColors[i]} strokeWidth={3} />
          <text x={204} y={[369, 405, 439][i]} fontSize={28}>{l}</text>
        </g>
      ))}
    </svg>
  );
}
